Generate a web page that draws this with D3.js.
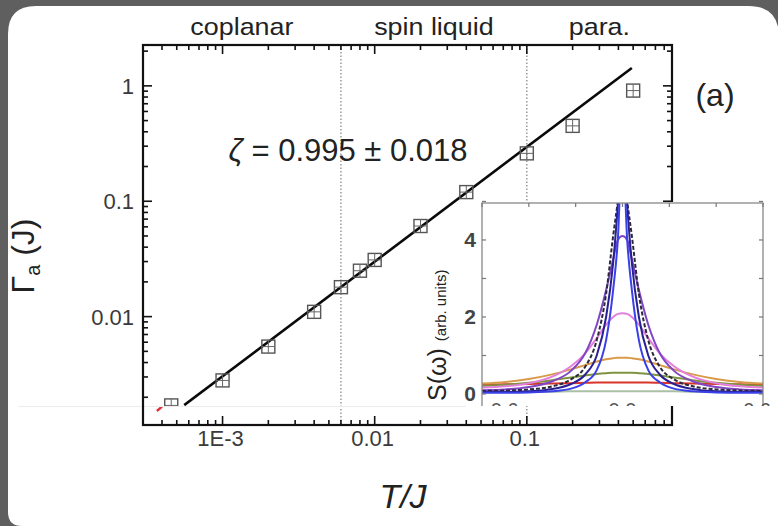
<!DOCTYPE html>
<html><head><meta charset="utf-8">
<script src="https://cdn.jsdelivr.net/npm/d3@7/dist/d3.min.js"></script>
<style>html,body{margin:0;padding:0;background:#5f5f5f;}svg{display:block;}</style>
</head><body>
<svg id="chart" width="778" height="526"></svg>
<script>
// ---------- data ----------
const tempT   = [4.6e-4, 1e-3, 2e-3, 4e-3, 6e-3, 8e-3, 1e-2, 2e-2, 4e-2, 0.1, 0.2, 0.5];
const gammaA  = [0.0017, 0.0028, 0.0055, 0.011, 0.018, 0.025, 0.031, 0.061, 0.12, 0.26, 0.45, 0.91];
const fitT    = [5.6e-4, 0.49];
const fitGamma= [0.00171, 1.43];
const redT    = [3.7e-4, 4.0e-4];
const redGamma= [0.00152, 0.00166];
const phaseBounds = [0.006, 0.1];
const phaseNames  = ["coplanar", "spin liquid", "para."];
const phaseCenters= [1.34e-3, 0.0245, 0.3];
const xTickVals   = [1e-3, 1e-2, 1e-1];
const xTickLabels = ["1E-3", "0.01", "0.1"];
const yTickVals   = [0.01, 0.1, 1];
const yTickLabels = ["0.01", "0.1", "1"];
const fitSymbol = "ζ";
const fitText = " = 0.995 ± 0.018";

// inset S(omega)
const omega = [-0.6,-0.5,-0.4,-0.3,-0.22,-0.16,-0.11,-0.07,-0.04,-0.02,0,0.02,0.04,0.07,0.11,0.16,0.22,0.3,0.4,0.5,0.6];
const sGray   = [0.06,0.06,0.06,0.06,0.07,0.07,0.07,0.07,0.07,0.07,0.07,0.07,0.07,0.07,0.07,0.07,0.07,0.06,0.06,0.06,0.06];
const sRed    = [0.24,0.25,0.26,0.27,0.28,0.29,0.3,0.3,0.3,0.3,0.3,0.3,0.3,0.3,0.3,0.29,0.28,0.27,0.26,0.25,0.24];
const sOlive  = [0.21,0.24,0.29,0.36,0.43,0.48,0.52,0.54,0.55,0.55,0.55,0.55,0.55,0.54,0.52,0.48,0.43,0.36,0.29,0.24,0.21];
const sOrange = [0.27,0.31,0.39,0.51,0.64,0.75,0.84,0.9,0.93,0.94,0.94,0.94,0.93,0.9,0.84,0.75,0.64,0.51,0.39,0.31,0.27];
const sPink   = [0.17,0.2,0.28,0.45,0.72,1.05,1.45,1.8,2.0,2.08,2.1,2.08,2.0,1.8,1.45,1.05,0.72,0.45,0.28,0.2,0.17];
const sPurple = [0.1,0.12,0.18,0.33,0.6,1.05,1.8,2.7,3.5,4.0,4.1,4.0,3.5,2.7,1.8,1.05,0.6,0.33,0.18,0.12,0.1];
const sBlack  = [0.08,0.09,0.12,0.2,0.38,0.7,1.4,2.6,4.1,5.0,6.0,5.0,4.1,2.6,1.4,0.7,0.38,0.2,0.12,0.09,0.08];
const sNavy   = [0.05,0.05,0.07,0.13,0.26,0.5,1.0,2.0,3.4,4.9,6.8,4.9,3.4,2.0,1.0,0.5,0.26,0.13,0.07,0.05,0.05];
const sBlue   = [0.03,0.03,0.04,0.07,0.14,0.3,0.62,1.4,2.7,4.0,6.5,4.0,2.7,1.4,0.62,0.3,0.14,0.07,0.04,0.03,0.03];
const insetSeries = [
  {v: sGray,   c: "#a9c0a4", dash: null},
  {v: sRed,    c: "#d9342a", dash: null},
  {v: sOlive,  c: "#7f9440", dash: null},
  {v: sOrange, c: "#d99a4a", dash: null},
  {v: sPink,   c: "#e37fdc", dash: null},
  {v: sPurple, c: "#8046c4", dash: null},
  {v: sBlack,  c: "#2a2a3a", dash: "4,2"},
  {v: sNavy,   c: "#2a2092", dash: null},
  {v: sBlue,   c: "#3a40e8", dash: null}
];
const insetXTicks = [-0.6,-0.4,-0.2,0,0.2,0.4,0.6];
const insetXLabels = ["-0.6","0.0","0.6"];
const insetXLabelVals = [-0.6,0,0.6];
const insetYTicks = [0,1,2,3,4,5];
const insetYLabelVals = [0,2,4];

// ---------- drawing ----------
const svg = d3.select("#chart");
// card
svg.append("path")
  .attr("d", "M8,34 Q8,6 36,6 L748,6 Q779,6 779,37 L779,526 L22,526 Q8,526 8,512 Z")
  .attr("fill", "#ffffff");

const L = 143, R = 672, T0 = 45, B = 425;
const x = d3.scaleLog().domain([3e-4, 0.9]).range([L, R]);
const y = d3.scaleLog().domain([0.00115, 2.26]).range([B, T0]);

const defs = svg.append("defs");
defs.append("clipPath").attr("id","plotclip").append("rect")
  .attr("x", L).attr("y", T0).attr("width", R-L).attr("height", 406-T0);

// dotted phase boundaries
svg.selectAll("line.phase").data(phaseBounds).enter().append("line")
  .attr("x1", d=>x(d)).attr("x2", d=>x(d)).attr("y1", T0).attr("y2", B)
  .attr("stroke", "#8a8a8a").attr("stroke-width", 1.3).attr("stroke-dasharray", "1.5,2");

const plot = svg.append("g").attr("clip-path","url(#plotclip)");
// fit line
plot.append("line")
  .attr("x1", x(fitT[0])).attr("y1", y(fitGamma[0]))
  .attr("x2", x(fitT[1])).attr("y2", y(fitGamma[1]))
  .attr("stroke", "#0a0a0a").attr("stroke-width", 2.6);
// markers
const pts = tempT.map((t,i)=>({t, g: gammaA[i]}));
const mk = plot.selectAll("g.pt").data(pts).enter().append("g")
  .attr("transform", d=>`translate(${x(d.t)},${y(d.g)})`);
mk.append("rect").attr("x",-6.5).attr("y",-6.5).attr("width",13).attr("height",13)
  .attr("fill","none").attr("stroke","#555").attr("stroke-width",1.4);
mk.append("path").attr("d","M-6.5,0H6.5M0,-6.5V6.5").attr("stroke","#666").attr("stroke-width",1);

// red dash
svg.append("line")
  .attr("x1", x(redT[0])).attr("y1", y(redGamma[0]))
  .attr("x2", x(redT[1])).attr("y2", y(redGamma[1]))
  .attr("stroke", "#e0303a").attr("stroke-width", 2.4);

// faint composite seam
svg.append("line").attr("x1", 18).attr("x2", 466).attr("y1", 406.5).attr("y2", 406.5)
  .attr("stroke", "#ececec").attr("stroke-width", 1);

// axes ticks (inward), all four sides
const allX = x.ticks().filter(v => v >= 3e-4 && v <= 0.9);
const allY = y.ticks().filter(v => v >= 0.00115 && v <= 2.26);
const isMajor = v => Math.abs(Math.log10(v) - Math.round(Math.log10(v))) < 1e-6;
const tk = svg.append("g").attr("stroke", "#111").attr("stroke-width", 1.6);
allX.forEach(v => {
  const len = isMajor(v) ? 9 : 5, px = x(v);
  tk.append("line").attr("x1", px).attr("x2", px).attr("y1", B).attr("y2", B-len);
  tk.append("line").attr("x1", px).attr("x2", px).attr("y1", T0).attr("y2", T0+len);
});
allY.forEach(v => {
  const len = isMajor(v) ? 9 : 5, py = y(v);
  tk.append("line").attr("x1", L).attr("x2", L+len).attr("y1", py).attr("y2", py);
  tk.append("line").attr("x1", R).attr("x2", R-len).attr("y1", py).attr("y2", py);
});
svg.append("rect").attr("x", L).attr("y", T0).attr("width", R-L).attr("height", B-T0)
  .attr("fill", "none").attr("stroke", "#111").attr("stroke-width", 2.2);

// tick labels
const font = "'Liberation Sans', Arial, sans-serif";
svg.selectAll("text.xl").data(xTickVals).enter().append("text")
  .attr("x", d=>x(d) - 2).attr("y", 446).attr("text-anchor","middle")
  .attr("font-family", font).attr("font-size", 22).attr("fill", "#3a3a3a")
  .text((d,i)=>xTickLabels[i]);
svg.selectAll("text.yl").data(yTickVals).enter().append("text")
  .attr("x", 134).attr("y", d=>y(d)+8).attr("text-anchor","end")
  .attr("font-family", font).attr("font-size", 22).attr("fill", "#3a3a3a")
  .text((d,i)=>yTickLabels[i]);

// phase labels
svg.selectAll("text.ph").data(phaseCenters).enter().append("text")
  .attr("x", d=>x(d)).attr("y", 35).attr("text-anchor","middle")
  .attr("font-family", font).attr("font-size", 24).attr("fill", "#222")
  .attr("transform", d=>`translate(${x(d)},0) scale(1.12,1) translate(${-x(d)},0)`)
  .text((d,i)=>phaseNames[i]);

// fit label
const fl = svg.append("text").attr("x", 348).attr("y", 161).attr("text-anchor","middle")
  .attr("font-family", font).attr("font-size", 31).attr("fill", "#222");
fl.append("tspan").attr("font-style","italic").text(fitSymbol);
fl.append("tspan").text(fitText);
// (a)
svg.append("text").attr("x", 715).attr("y", 106).attr("text-anchor","middle")
  .attr("font-family", font).attr("font-size", 32).attr("fill", "#222").text("(a)");

// axis titles
svg.append("text").attr("x", 403).attr("y", 508).attr("text-anchor","middle")
  .attr("font-family", font).attr("font-size", 34).attr("font-style","italic").attr("fill", "#222")
  .text("T/J");
const yt = svg.append("text").attr("transform","translate(34,256) rotate(-90)")
  .attr("text-anchor","middle").attr("font-family", font).attr("font-size", 32).attr("fill", "#222");
yt.append("tspan").text("Γ");
yt.append("tspan").attr("font-size", 20).attr("dy", 6).text("a");
yt.append("tspan").attr("dy", -6).text(" (J)");

// ---------- inset ----------
const iL = 482, iR = 763, iT = 203, iB = 394;
const ix = d3.scaleLinear().domain([-0.6, 0.6]).range([iL, iR]);
const iy = d3.scaleLinear().domain([0, 4.96]).range([iB, iT]);
defs.append("clipPath").attr("id","insetcut").append("rect")
  .attr("x", 400).attr("y", 190).attr("width", 400).attr("height", 406-190);
defs.append("clipPath").attr("id","insetframe").append("rect")
  .attr("x", iL).attr("y", iT).attr("width", iR-iL).attr("height", 406-iT);
const inset = svg.append("g").attr("clip-path","url(#insetcut)");
inset.append("rect").attr("x", iL-4).attr("y", iT-1).attr("width", 300).attr("height", 220).attr("fill","#fff");
const curves = inset.append("g").attr("clip-path","url(#insetframe)");
const lineGen = d3.line().x((d,i)=>ix(omega[i])).y(d=>iy(d)).curve(d3.curveMonotoneX);
insetSeries.forEach(s => {
  curves.append("path").attr("d", lineGen(s.v)).attr("fill","none")
    .attr("stroke", s.c).attr("stroke-width", 2)
    .attr("stroke-dasharray", s.dash);
});
inset.append("rect").attr("x", iL).attr("y", iT).attr("width", iR-iL).attr("height", 220)
  .attr("fill","none").attr("stroke","#888").attr("stroke-width",1.3);
const itk = inset.append("g").attr("stroke","#777").attr("stroke-width",1.2);
insetXTicks.forEach(v => {
  itk.append("line").attr("x1", ix(v)).attr("x2", ix(v)).attr("y1", iT).attr("y2", iT+4);
});
insetYTicks.forEach(v => {
  itk.append("line").attr("x1", iL).attr("x2", iL+4).attr("y1", iy(v)).attr("y2", iy(v));
  itk.append("line").attr("x1", iR).attr("x2", iR-4).attr("y1", iy(v)).attr("y2", iy(v));
});
inset.selectAll("text.iyl").data(insetYLabelVals).enter().append("text")
  .attr("x", 476).attr("y", d=>iy(d)+7).attr("text-anchor","end")
  .attr("font-family", font).attr("font-size", 21).attr("font-weight","bold").attr("fill","#444")
  .text(d=>d);
const anchors = ["start","middle","end"];
inset.selectAll("text.ixl").data(insetXLabelVals).enter().append("text")
  .attr("x", (d,i)=> i===0 ? iL+2 : (i===2 ? iR+8 : ix(d))).attr("y", 417)
  .attr("text-anchor",(d,i)=>anchors[i])
  .attr("font-family", font).attr("font-size", 20).attr("fill","#555")
  .text((d,i)=>insetXLabels[i]);
const st = inset.append("text").attr("transform","translate(446,401) rotate(-90)")
  .attr("text-anchor","start").attr("font-family", font).attr("fill","#222");
st.append("tspan").attr("font-size", 25).text("S(ω) ");
st.append("tspan").attr("font-size", 15).text("(arb. units)");
</script>
</body></html>
